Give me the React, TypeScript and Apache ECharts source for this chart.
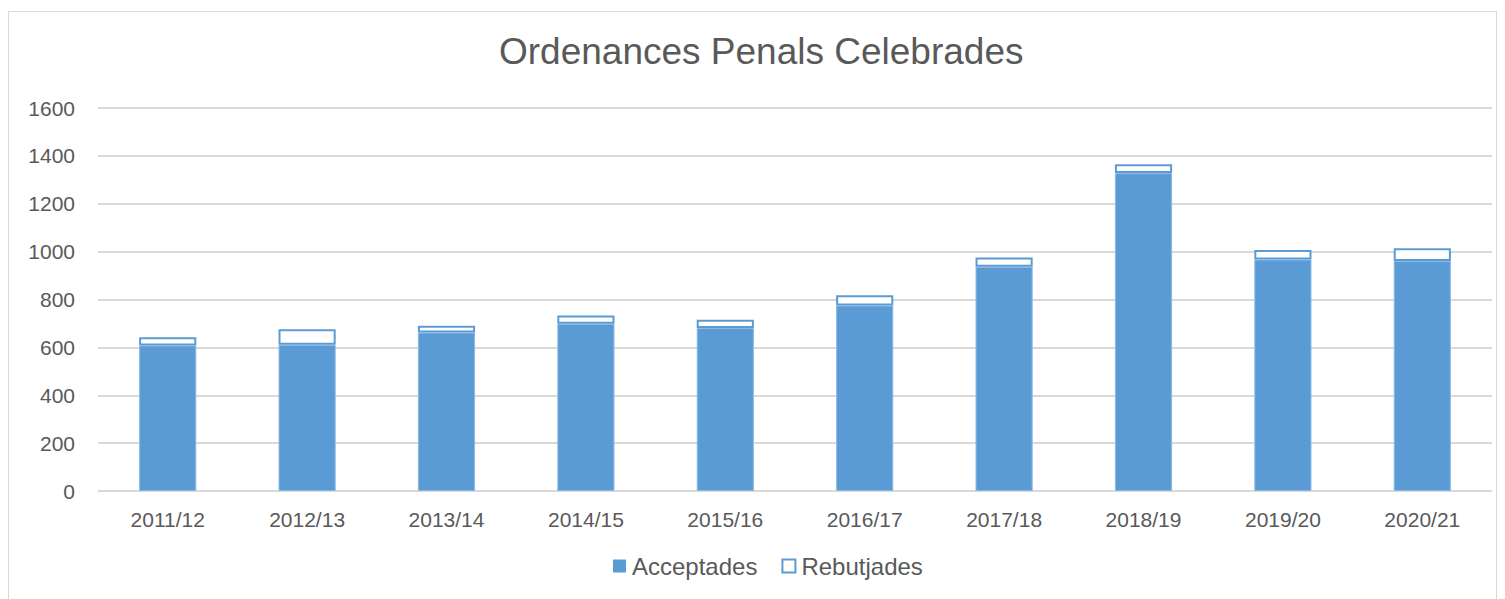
import React, { useEffect, useRef } from "react";
import * as echarts from "echarts";

const categories = ["2011/12", "2012/13", "2013/14", "2014/15", "2015/16", "2016/17", "2017/18", "2018/19", "2019/20", "2020/21"];
const acceptades = [608, 611, 662, 699, 681, 775, 937, 1328, 967, 961];
const rebutjades = [34, 65, 28, 34, 34, 43, 38, 37, 40, 53];
const yTicks = { min: 0, max: 1600, interval: 200 };

const BLUE = "#5B9BD5";
const TEXT = "#595959";

export default function App() {
  const ref = useRef<HTMLDivElement>(null);
  useEffect(() => {
    if (!ref.current) return;
    const chart = echarts.init(ref.current, undefined, { renderer: "svg" });
    chart.setOption({
      animation: false,
      title: {
        text: "Ordenances Penals Celebrades",
        left: 485,
        top: 16,
        textStyle: { fontFamily: "Liberation Sans, Arial", fontSize: 37, fontWeight: "normal", color: TEXT },
      },
      legend: {
        top: 537,
        left: 599,
        itemWidth: 13,
        itemHeight: 13,
        itemGap: 24,
        textStyle: { fontFamily: "Liberation Sans, Arial", fontSize: 24, color: TEXT, padding: [0, 0, 0, 1] },
        data: [
          { name: "Acceptades", icon: "rect", itemStyle: { color: BLUE, borderWidth: 0 } },
          { name: "Rebutjades", icon: "rect", itemStyle: { color: "#ffffff", borderColor: BLUE, borderWidth: 2 } },
        ],
      },
      grid: { left: 89, right: 4, top: 96, bottom: 120 },
      xAxis: {
        type: "category",
        data: categories,
        axisLine: { lineStyle: { color: "#d9d9d9", width: 1 } },
        axisTick: { show: false },
        axisLabel: { fontFamily: "Liberation Sans, Arial", fontSize: 21, color: TEXT, margin: 18 },
      },
      yAxis: {
        type: "value",
        min: yTicks.min,
        max: yTicks.max,
        interval: yTicks.interval,
        axisLine: { show: false },
        axisTick: { show: false },
        splitLine: { lineStyle: { color: "#d9d9d9", width: 2 } },
        axisLabel: {
          fontFamily: "Liberation Sans, Arial",
          fontSize: 21,
          color: TEXT,
          margin: 23,
          formatter: (v: number) => String(v),
        },
      },
      series: [
        {
          name: "Acceptades",
          type: "bar",
          stack: "total",
          barWidth: "41%",
          data: acceptades,
          itemStyle: { color: BLUE, borderColor: "#8cb9e3", borderWidth: 1 },
        },
        {
          name: "Rebutjades",
          type: "bar",
          stack: "total",
          barWidth: "41%",
          data: rebutjades,
          itemStyle: { color: "#ffffff", borderColor: BLUE, borderWidth: 2 },
        },
      ],
    });
    return () => chart.dispose();
  }, []);
  return (
    <div
      ref={ref}
      style={{
        width: 1489,
        height: 600,
        marginTop: 3,
        boxSizing: "border-box",
        borderLeft: "1px solid #d9d9d9",
        borderTop: "1px solid #d9d9d9",
        borderRight: "1px solid #d9d9d9",
      }}
    />
  );
}
